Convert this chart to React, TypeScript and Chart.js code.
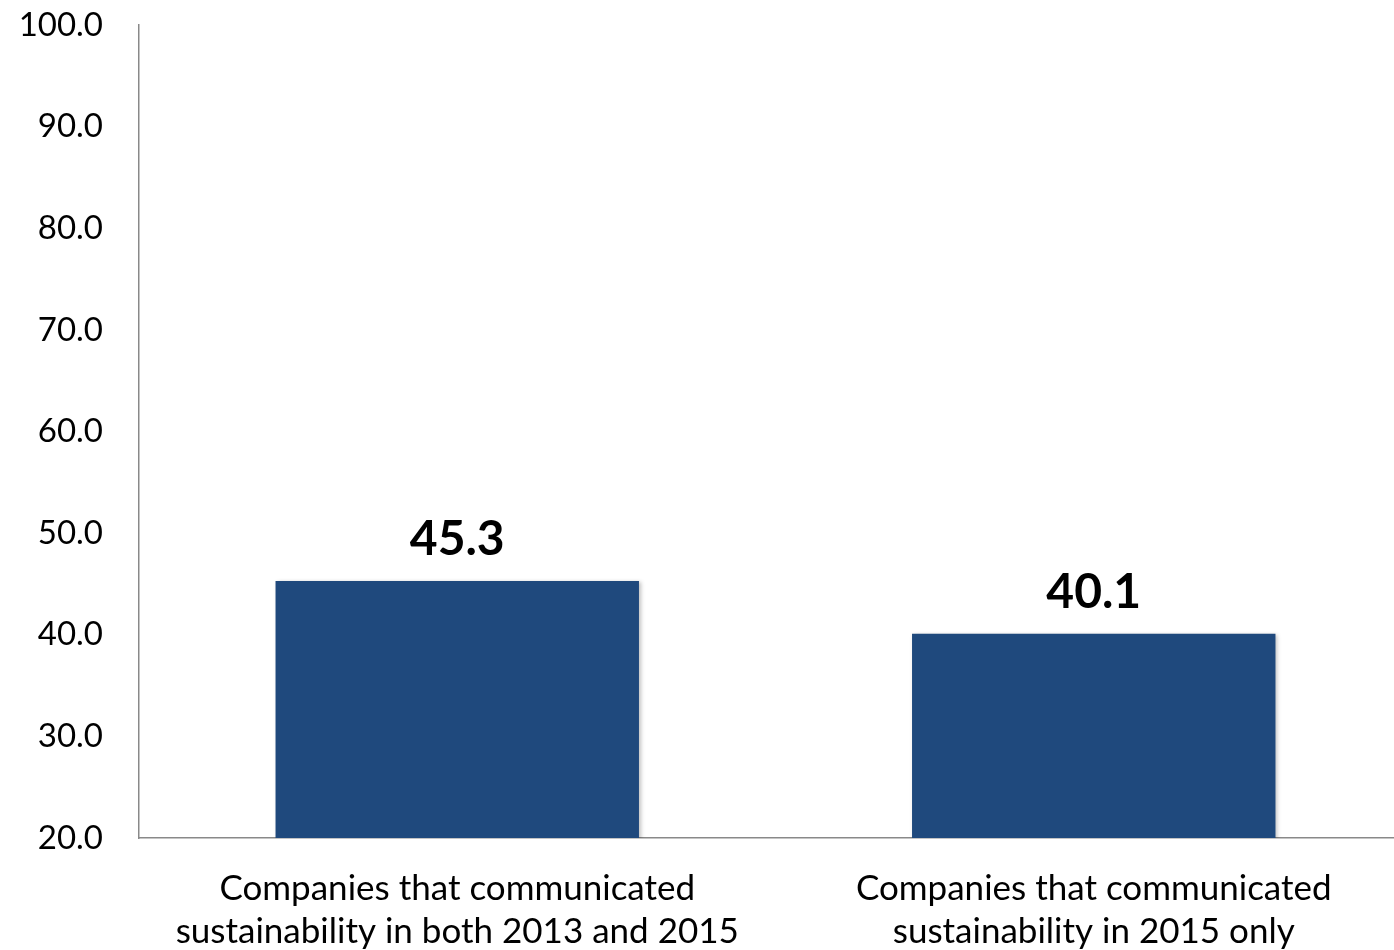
import React, { useEffect, useRef } from "react";
import { Chart, registerables } from "chart.js";

Chart.register(...registerables);

const categories: string[][] = [
  ["Companies that communicated", "sustainability in both 2013 and 2015"],
  ["Companies that communicated", "sustainability in 2015 only"],
];
const values: number[] = [45.3, 40.1];
const yMin = 20;
const yMax = 100;
const yStep = 10;

const FONT = "Lato, 'Open Sans', sans-serif";

const valueLabels = {
  id: "valueLabels",
  afterDatasetsDraw(chart: any) {
    const ctx = chart.ctx;
    const meta = chart.getDatasetMeta(0);
    ctx.save();
    ctx.font = `bold 48px ${FONT}`;
    ctx.fillStyle = "#000000";
    ctx.textAlign = "center";
    ctx.textBaseline = "alphabetic";
    meta.data.forEach((bar: any, i: number) => {
      ctx.fillText(values[i].toFixed(1), bar.x, bar.y - 26);
    });
    ctx.restore();
  },
};

const barShadow = {
  id: "barShadow",
  beforeDatasetDraw(chart: any) {
    const ctx = chart.ctx;
    ctx.save();
    ctx.shadowColor = "rgba(0,0,0,0.25)";
    ctx.shadowBlur = 4;
    ctx.shadowOffsetX = 2;
    ctx.shadowOffsetY = 1;
  },
  afterDatasetDraw(chart: any) {
    chart.ctx.restore();
  },
};

export default function App() {
  const ref = useRef<HTMLCanvasElement | null>(null);
  useEffect(() => {
    if (!ref.current) return;
    const chart = new Chart(ref.current, {
      type: "bar",
      data: {
        labels: categories,
        datasets: [
          {
            data: values,
            backgroundColor: "#1F497D",
            borderWidth: 0,
            barPercentage: 0.571,
            categoryPercentage: 1,
          },
        ],
      },
      options: {
        responsive: false,
        animation: false,
        devicePixelRatio: 1,
        layout: { padding: { top: 25, right: 0, left: 0, bottom: 0 } },
        plugins: {
          legend: { display: false },
          tooltip: { enabled: false },
        },
        scales: {
          x: {
            grid: { display: false, drawTicks: false, tickLength: 0 },
            border: { display: true, color: "#898989", width: 1.5 },
            ticks: {
              color: "#000000",
              font: { family: FONT, size: 35, lineHeight: 1.23 },
              padding: 29,
              maxRotation: 0,
              autoSkip: false,
            },
            afterFit: (scale: any) => {
              scale.height = 112;
            },
          },
          y: {
            min: yMin,
            max: yMax,
            grid: {
              display: true,
              drawOnChartArea: false,
              drawTicks: true,
              tickLength: 31,
              color: "rgba(0,0,0,0)",
            },
            border: { display: true, color: "#898989", width: 1.5 },
            ticks: {
              stepSize: yStep,
              color: "#000000",
              font: { family: FONT, size: 33 },
              padding: 5,
              callback: (v: any) => Number(v).toFixed(1),
            },
            afterFit: (scale: any) => {
              scale.width = 139;
            },
          },
        },
      },
      plugins: [barShadow, valueLabels],
    });
    return () => chart.destroy();
  }, []);
  return (
    <div
      style={{
        position: "absolute",
        left: 0,
        top: 0,
        width: 1394,
        height: 950,
        overflow: "hidden",
        background: "#ffffff",
      }}
    >
      <canvas ref={ref} width={1412} height={950} style={{ display: "block" }} />
    </div>
  );
}
